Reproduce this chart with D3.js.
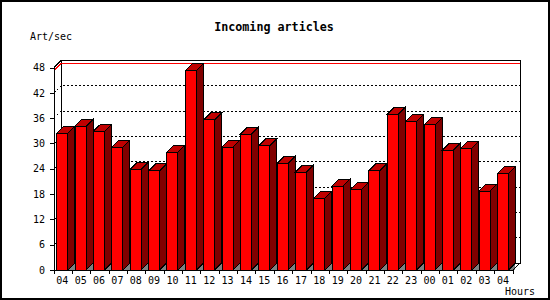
<!DOCTYPE html>
<html>
<head>
<meta charset="utf-8">
<script src="https://cdn.jsdelivr.net/npm/d3@7"></script>
<style>
  html, body { margin: 0; padding: 0; background: #fff; }
  svg { display: block; }
</style>
</head>
<body>
<div id="chart"></div>
<script>
// ============ 数据 ============
const hours = ['04', '05', '06', '07', '08', '09', '10', '11', '12', '13', '14', '15', '16',
  '17', '18', '19', '20', '21', '22', '23', '00', '01', '02', '03', '04'];
const artPerSec = [32.4, 34.1, 32.9, 29.1, 23.9, 23.5, 27.9, 47.3, 35.6, 29.1, 32.2, 29.5, 25.3,
  23.2, 17.0, 19.9, 19.1, 23.6, 36.9, 35.2, 34.4, 28.4, 28.9, 18.7, 22.8];
const yTicks = [0, 6, 12, 18, 24, 30, 36, 42, 48];

// ============ 布局 ============
const width = 550;
const height = 300;
const plotLeft = 54, plotRight = 513, plotBottom = 270, plotTop = 67.5;
const depth = 7;
const barOffset = 2.8, barWidth = 11;
const font = '"DejaVu Sans Mono", "Liberation Mono", monospace';

const svg = d3.select('#chart')
  .append('svg')
  .attr('width', width)
  .attr('height', height)
  .attr('shape-rendering', 'crispEdges');

// 外框
svg.append('rect')
  .attr('x', 1).attr('y', 1)
  .attr('width', width - 2).attr('height', height - 2)
  .attr('fill', '#fff')
  .attr('stroke', '#000')
  .attr('stroke-width', 2);

const x = d3.scaleBand()
  .domain(d3.range(hours.length))
  .range([plotLeft, plotRight]);

const y = d3.scaleLinear()
  .domain([0, 48])
  .range([plotBottom, plotTop]);

// 背板
svg.append('rect')
  .attr('x', plotLeft + depth)
  .attr('y', y(48) - depth)
  .attr('width', plotRight - plotLeft)
  .attr('height', y(0) - y(48))
  .attr('fill', 'none')
  .attr('stroke', '#000');

// 网格线（点线）
const depthLine = v => `M${plotLeft},${y(v)}L${plotLeft + depth},${y(v) - depth}H${plotRight + depth}`;

svg.append('g')
  .selectAll('path')
  .data(yTicks.filter(v => v > 0 && v < 48))
  .join('path')
  .attr('d', depthLine)
  .attr('fill', 'none')
  .attr('stroke', '#000')
  .attr('stroke-dasharray', '2,2');

// 最大值线
svg.append('path')
  .attr('d', depthLine(d3.max(artPerSec)))
  .attr('fill', 'none')
  .attr('stroke', '#ff0000');

// ============ 柱子 ============
const bars = svg.append('g')
  .selectAll('g')
  .data(artPerSec.map((v, i) => ({ i, v })))
  .join('g')
  .attr('stroke', '#000');

const x0 = d => x(d.i) + barOffset;
const x1 = d => x0(d) + barWidth;

// 地面阴影
bars.append('path')
  .attr('d', d => `M${x1(d)},${plotBottom}L${x1(d) + depth},${plotBottom - depth}V${plotBottom}Z`)
  .attr('fill', '#808080')
  .attr('stroke', 'none');

// 侧面
bars.append('path')
  .attr('d', d => `M${x1(d)},${plotBottom}V${y(d.v)}L${x1(d) + depth},${y(d.v) - depth}V${plotBottom - depth}Z`)
  .attr('fill', '#800000');

// 顶面
bars.append('path')
  .attr('d', d => `M${x0(d)},${y(d.v)}L${x0(d) + depth},${y(d.v) - depth}H${x1(d) + depth}L${x1(d)},${y(d.v)}Z`)
  .attr('fill', '#c00000');

// 正面
bars.append('rect')
  .attr('x', x0)
  .attr('y', d => y(d.v))
  .attr('width', barWidth)
  .attr('height', d => plotBottom - y(d.v))
  .attr('fill', '#ff0000');

// 边框斜线
svg.append('path')
  .attr('d', `M${plotLeft},${y(48)}L${plotLeft + depth},${y(48) - depth}M${plotRight},${plotBottom}L${plotRight + depth},${plotBottom - depth}`)
  .attr('fill', 'none')
  .attr('stroke', '#000');

// ============ 坐标轴 ============
const yAxis = svg.append('g')
  .attr('transform', `translate(${plotLeft},0)`)
  .call(d3.axisLeft(y).tickValues(yTicks).tickSize(4).tickSizeOuter(0).tickPadding(5));

const xAxis = svg.append('g')
  .attr('transform', `translate(${barOffset + barWidth / 2 - x.bandwidth() / 2},${plotBottom})`)
  .call(d3.axisBottom(x).tickFormat(i => hours[i]).tickSize(0).tickSizeOuter(0).tickPadding(6.4));

xAxis.select('.domain').remove();

svg.append('path')
  .attr('d', `M${plotLeft},${plotBottom}H${plotRight}`)
  .attr('stroke', '#000');

// 分隔刻度
svg.append('g')
  .selectAll('line')
  .data(d3.range(hours.length + 1))
  .join('line')
  .attr('x1', i => plotLeft + i * x.step())
  .attr('x2', i => plotLeft + i * x.step())
  .attr('y1', plotBottom)
  .attr('y2', plotBottom + 4)
  .attr('stroke', '#000');

[yAxis, xAxis].forEach(g => {
  g.attr('font-family', font).attr('font-size', 10);
  g.selectAll('text').attr('fill', '#000');
  g.selectAll('line, path').attr('stroke', '#000');
});

// ============ 文字 ============
svg.append('text')
  .attr('x', 274)
  .attr('y', 31)
  .attr('text-anchor', 'middle')
  .attr('font-family', font)
  .attr('font-weight', 'bold')
  .attr('font-size', 11.7)
  .text('Incoming articles');

svg.append('text')
  .attr('x', 30)
  .attr('y', 40)
  .attr('font-family', font)
  .attr('font-size', 10)
  .text('Art/sec');

svg.append('text')
  .attr('x', 505)
  .attr('y', 295)
  .attr('font-family', font)
  .attr('font-size', 10)
  .text('Hours');
</script>
</body>
</html>
